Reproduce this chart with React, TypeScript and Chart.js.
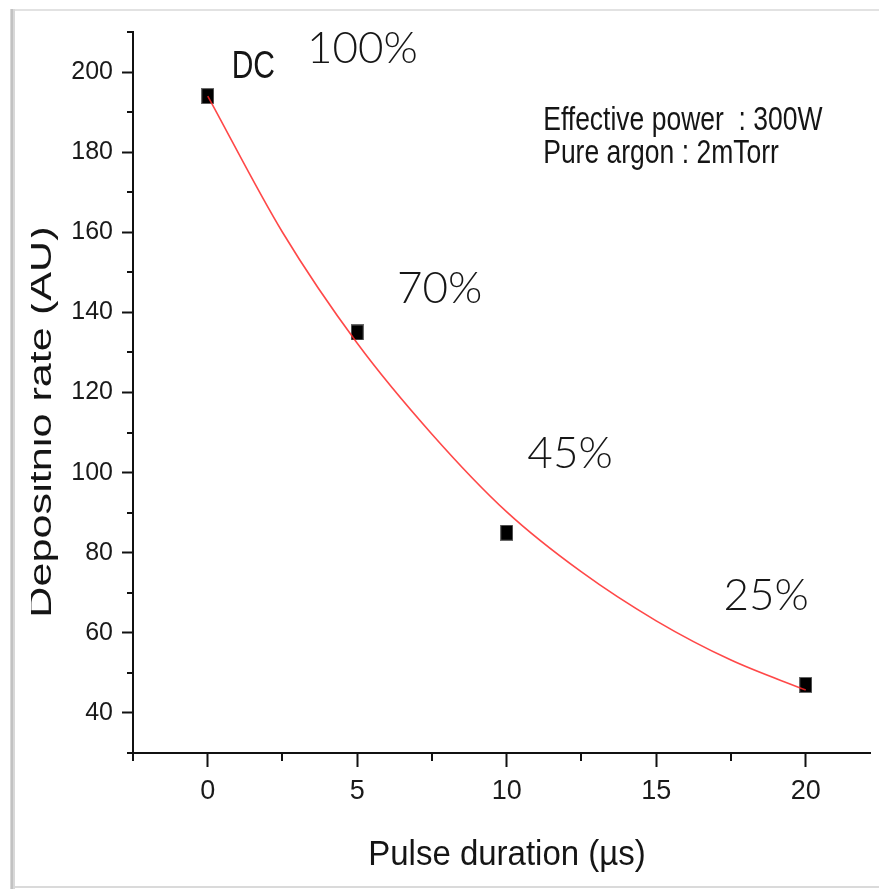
import React, { useEffect, useRef } from 'react';
import { Chart, registerables } from 'chart.js';

Chart.register(...registerables);

// ---- data ----
const PULSE_US = [0, 5, 10, 20];
const DEPOSITION_RATE = [194, 135, 85, 47];
const FIT_X = [0, 2.5, 5, 7.5, 10, 12.5, 15, 17.5, 20];
const FIT_Y = [194, 160, 132.3, 109.6, 90.2, 75.2, 63.0, 53.2, 45.7];

const X_TICKS = [0, 5, 10, 15, 20];
const X_MINOR = [-2.5, 2.5, 7.5, 12.5, 17.5];
const Y_TICKS = [40, 60, 80, 100, 120, 140, 160, 180, 200];
const Y_MINOR = [30, 50, 70, 90, 110, 130, 150, 170, 190, 210];

const X_TITLE = 'Pulse duration (µs)';
const Y_TITLE = 'Depositnio rate (AU)';

const NOTE_TEXTS = ['DC', '100%', '70%', '45%', '25%', 'Effective power  : 300W', 'Pure argon : 2mTorr'];
const NOTE_KIND = ['label', 'pct', 'pct', 'pct', 'pct', 'info', 'info'];
const NOTE_X = [0.8, 3.32, 6.33, 10.69, 17.25, 11.22, 11.22];
const NOTE_Y = [198.6, 202.3, 142.4, 101.2, 65.7, 185.6, 177.4];

const SANS = '"Liberation Sans", Arial, Helvetica, sans-serif';
const NOTE_STYLE: Record<string, { font: string; vs: number; color: string }> = {
  label: { font: `30px ${SANS}`, vs: 1.3, color: '#151515' },
  pct: { font: `300 44px Lato, "Open Sans", "Noto Sans", sans-serif`, vs: 1.0, color: '#161616' },
  info: { font: `26.5px ${SANS}`, vs: 1.27, color: '#151515' },
};

function makeMarker(): HTMLCanvasElement {
  const c = document.createElement('canvas');
  c.width = 13;
  c.height = 16;
  const g = c.getContext('2d')!;
  g.fillStyle = '#6a6a6a';
  g.fillRect(0, 0, 13, 16);
  g.fillStyle = '#000';
  g.fillRect(1, 1, 11, 14);
  return c;
}

const decor = {
  id: 'decor',
  beforeDraw(chart: any) {
    const { ctx, width, height } = chart;
    ctx.save();
    ctx.fillStyle = '#fff';
    ctx.fillRect(0, 0, width, height);
    ctx.restore();
  },
  afterDraw(chart: any) {
    const { ctx, chartArea, scales } = chart;
    const x = scales.x;
    const y = scales.y;
    ctx.save();
    // minor ticks
    ctx.strokeStyle = '#111';
    ctx.lineWidth = 2;
    X_MINOR.forEach((v) => {
      const px = Math.round(x.getPixelForValue(v));
      ctx.beginPath();
      ctx.moveTo(px, chartArea.bottom);
      ctx.lineTo(px, chartArea.bottom + 8);
      ctx.stroke();
    });
    Y_MINOR.forEach((v) => {
      const py = Math.round(y.getPixelForValue(v));
      ctx.beginPath();
      ctx.moveTo(chartArea.left - 6, py);
      ctx.lineTo(chartArea.left, py);
      ctx.stroke();
    });

    // annotations
    NOTE_TEXTS.forEach((t, i) => {
      const st = NOTE_STYLE[NOTE_KIND[i]];
      const px = x.getPixelForValue(NOTE_X[i]);
      const py = y.getPixelForValue(NOTE_Y[i]);
      ctx.save();
      ctx.translate(px, py);
      ctx.scale(1, st.vs);
      ctx.font = st.font;
      ctx.fillStyle = st.color;
      ctx.textAlign = 'left';
      ctx.textBaseline = 'alphabetic';
      ctx.fillText(t, 0, 0);
      ctx.restore();
    });

    // x title
    ctx.save();
    ctx.font = `33px ${SANS}`;
    ctx.fillStyle = '#151515';
    ctx.textAlign = 'center';
    ctx.textBaseline = 'alphabetic';
    ctx.translate(507, chartArea.bottom + 112);
    ctx.scale(1, 1.05);
    ctx.fillText(X_TITLE, 0, 0);
    ctx.restore();

    // y title (clipped on the left, as in the source)
    ctx.save();
    ctx.beginPath();
    ctx.rect(31, 0, 200, chart.height);
    ctx.clip();
    ctx.translate(51, 422);
    ctx.rotate(-Math.PI / 2);
    ctx.scale(1.35, 1);
    ctx.font = `32px ${SANS}`;
    ctx.fillStyle = '#151515';
    ctx.textAlign = 'center';
    ctx.textBaseline = 'alphabetic';
    ctx.fillText(Y_TITLE, 0, 0);
    ctx.restore();

    // screenshot frame
    ctx.fillStyle = '#e2e2e2';
    ctx.fillRect(12, 9, chart.width - 12, 2);
    ctx.fillStyle = '#dadada';
    ctx.fillRect(12, 886, chart.width - 12, 2);
    ctx.fillStyle = '#d8d8d8';
    ctx.fillRect(10, 9, 5, 880);
    ctx.fillStyle = '#c2c2c2';
    ctx.fillRect(11, 9, 2, 880);
    ctx.restore();
  },
};

export default function App() {
  const ref = useRef<HTMLCanvasElement | null>(null);

  useEffect(() => {
    if (!ref.current) return;
    const marker = makeMarker();
    const chart = new Chart(ref.current, {
      type: 'scatter',
      data: {
        datasets: [
          {
            type: 'line',
            label: 'Fit',
            data: FIT_X.map((v, i) => ({ x: v, y: FIT_Y[i] })),
            borderColor: 'rgba(255, 40, 40, 0.85)',
            borderWidth: 1.6,
            pointRadius: 0,
            fill: false,
            cubicInterpolationMode: 'monotone',
            order: 0,
          } as any,
          {
            label: 'Deposition rate',
            data: PULSE_US.map((v, i) => ({ x: v, y: DEPOSITION_RATE[i] })),
            pointStyle: marker as any,
            pointRadius: 8,
            showLine: false,
            order: 1,
          },
        ],
      },
      options: {
        responsive: false,
        animation: false,
        devicePixelRatio: 1,
        layout: { padding: { left: 0, top: 32, right: 6, bottom: 0 } },
        plugins: { legend: { display: false }, tooltip: { enabled: false } },
        scales: {
          x: {
            type: 'linear',
            min: -2.5,
            max: 22.15,
            afterBuildTicks: (s: any) => {
              s.ticks = X_TICKS.map((v) => ({ value: v }));
            },
            afterFit: (s: any) => {
              s.height = 137;
              s.paddingLeft = 0;
              s.paddingRight = 0;
            },
            grid: {
              drawOnChartArea: false,
              drawTicks: true,
              tickLength: 14,
              tickWidth: 2,
              tickColor: '#111',
              color: '#111',
            },
            border: { display: true, color: '#111', width: 2 },
            ticks: {
              color: '#1a1a1a',
              font: { family: SANS, size: 27 },
              padding: 8,
              maxRotation: 0,
              autoSkip: false,
            },
          },
          y: {
            type: 'linear',
            min: 30,
            max: 210,
            afterBuildTicks: (s: any) => {
              s.ticks = Y_TICKS.map((v) => ({ value: v }));
            },
            afterFit: (s: any) => {
              s.width = 133;
              s.paddingTop = 0;
              s.paddingBottom = 0;
            },
            grid: {
              drawOnChartArea: false,
              drawTicks: true,
              tickLength: 11,
              tickWidth: 2,
              tickColor: '#111',
              color: '#111',
            },
            border: { display: true, color: '#111', width: 2 },
            ticks: {
              color: '#1a1a1a',
              font: { family: SANS, size: 25 },
              padding: 9,
              autoSkip: false,
            },
          },
        },
      },
      plugins: [decor],
    });
    return () => chart.destroy();
  }, []);

  return (
    <div style={{ position: 'absolute', left: 0, top: 0, width: 879, height: 890, background: '#fff' }}>
      <canvas ref={ref} width={879} height={890} style={{ display: 'block', width: 879, height: 890 }} />
    </div>
  );
}
